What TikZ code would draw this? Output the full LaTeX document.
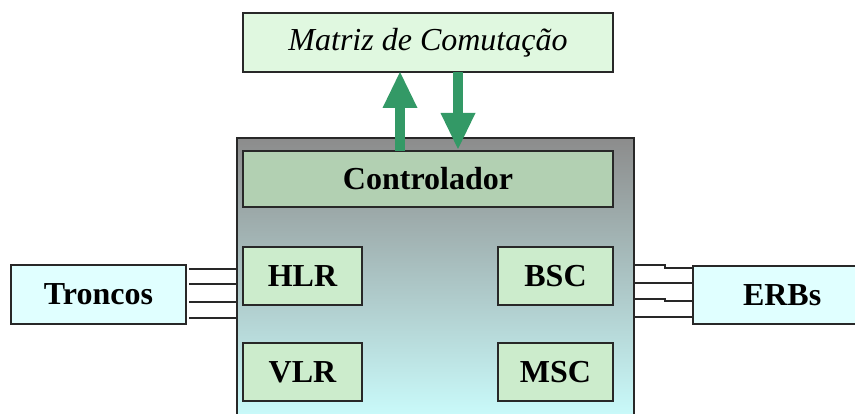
\documentclass[tikz,border=0pt]{standalone}
\usepackage{fontspec}
\setmainfont{Liberation Serif}
\usetikzlibrary{arrows.meta}
\definecolor{matrizfill}{RGB}{224,248,224}
\definecolor{cyanfill}{RGB}{224,255,255}
\definecolor{ctrlfill}{RGB}{178,208,178}
\definecolor{subfill}{RGB}{204,236,204}
\definecolor{arrowgreen}{RGB}{51,153,102}
\definecolor{maintop}{RGB}{140,140,140}
\definecolor{mainbot}{RGB}{204,255,255}
\definecolor{edge}{RGB}{40,40,40}
\tikzset{
  blk/.style={draw=edge, line width=1.5pt, inner sep=0pt, outer sep=0pt, anchor=north west,
              font=\fontsize{32}{38}\selectfont\bfseries},
  sub/.style={blk, fill=subfill, minimum width=119pt, minimum height=58pt},
  bigarrow/.style={arrowgreen, line width=10pt,
              -{Triangle[width=35pt,length=36pt,line width=0pt]}},
  wire/.style={edge, line width=1.5pt}
}
\begin{document}
\begin{tikzpicture}[x=1pt,y=-1pt]
\useasboundingbox (0,0) rectangle (855,414);
% main box
\node[draw=edge, line width=1.8pt, inner sep=0pt, outer sep=0pt, anchor=north west,
      top color=maintop, bottom color=mainbot, minimum width=397pt, minimum height=290pt] (main) at (237,138) {};
% matriz
\node[blk, fill=matrizfill, minimum width=370pt, minimum height=59pt,
      font=\fontsize{32}{38}\selectfont\itshape] (matriz) at (243,13) {Matriz de Comutação};
% controlador
\node[blk, fill=ctrlfill, minimum width=370pt, minimum height=56pt] (ctrl) at (243,151) {Controlador};
% sub boxes
\node[sub] (hlr) at (243,247) {HLR};
\node[sub] (vlr) at (243,343) {VLR};
\node[sub, minimum width=115pt] (bsc) at (498,247) {BSC};
\node[sub, minimum width=115pt] (msc) at (498,343) {MSC};
% side boxes
\node[blk, fill=cyanfill, minimum width=175pt, minimum height=59pt] (troncos) at (11,265) {Troncos};
\node[blk, fill=cyanfill, minimum width=170pt, minimum height=58pt, text width=160pt, align=left] (erbs) at (693,266) {\hspace*{45pt}ERBs};
% arrows
\coordinate (ua) at (400,0);
\coordinate (da) at (458,0);
\draw[bigarrow] (ctrl.north -| ua) -- (matriz.south -| ua);
\draw[bigarrow] (matriz.south -| da) -- ([yshift=2pt]ctrl.north -| da);
% wires left
\foreach \y in {269,284,302,318}{
  \coordinate (tw) at (0,\y);
  \draw[wire] ([xshift=3pt]troncos.east |- tw) -- (main.west |- tw);
}
% wires right
\coordinate (mid) at (665,0);
\foreach \ya/\yb in {265/268,283/283,299/301,317/317}{
  \coordinate (wa) at (0,\ya);
  \coordinate (wb) at (0,\yb);
  \draw[wire] (main.east |- wa) -- (mid |- wa) -- (mid |- wb) -- (erbs.west |- wb);
}
\end{tikzpicture}
\end{document}
